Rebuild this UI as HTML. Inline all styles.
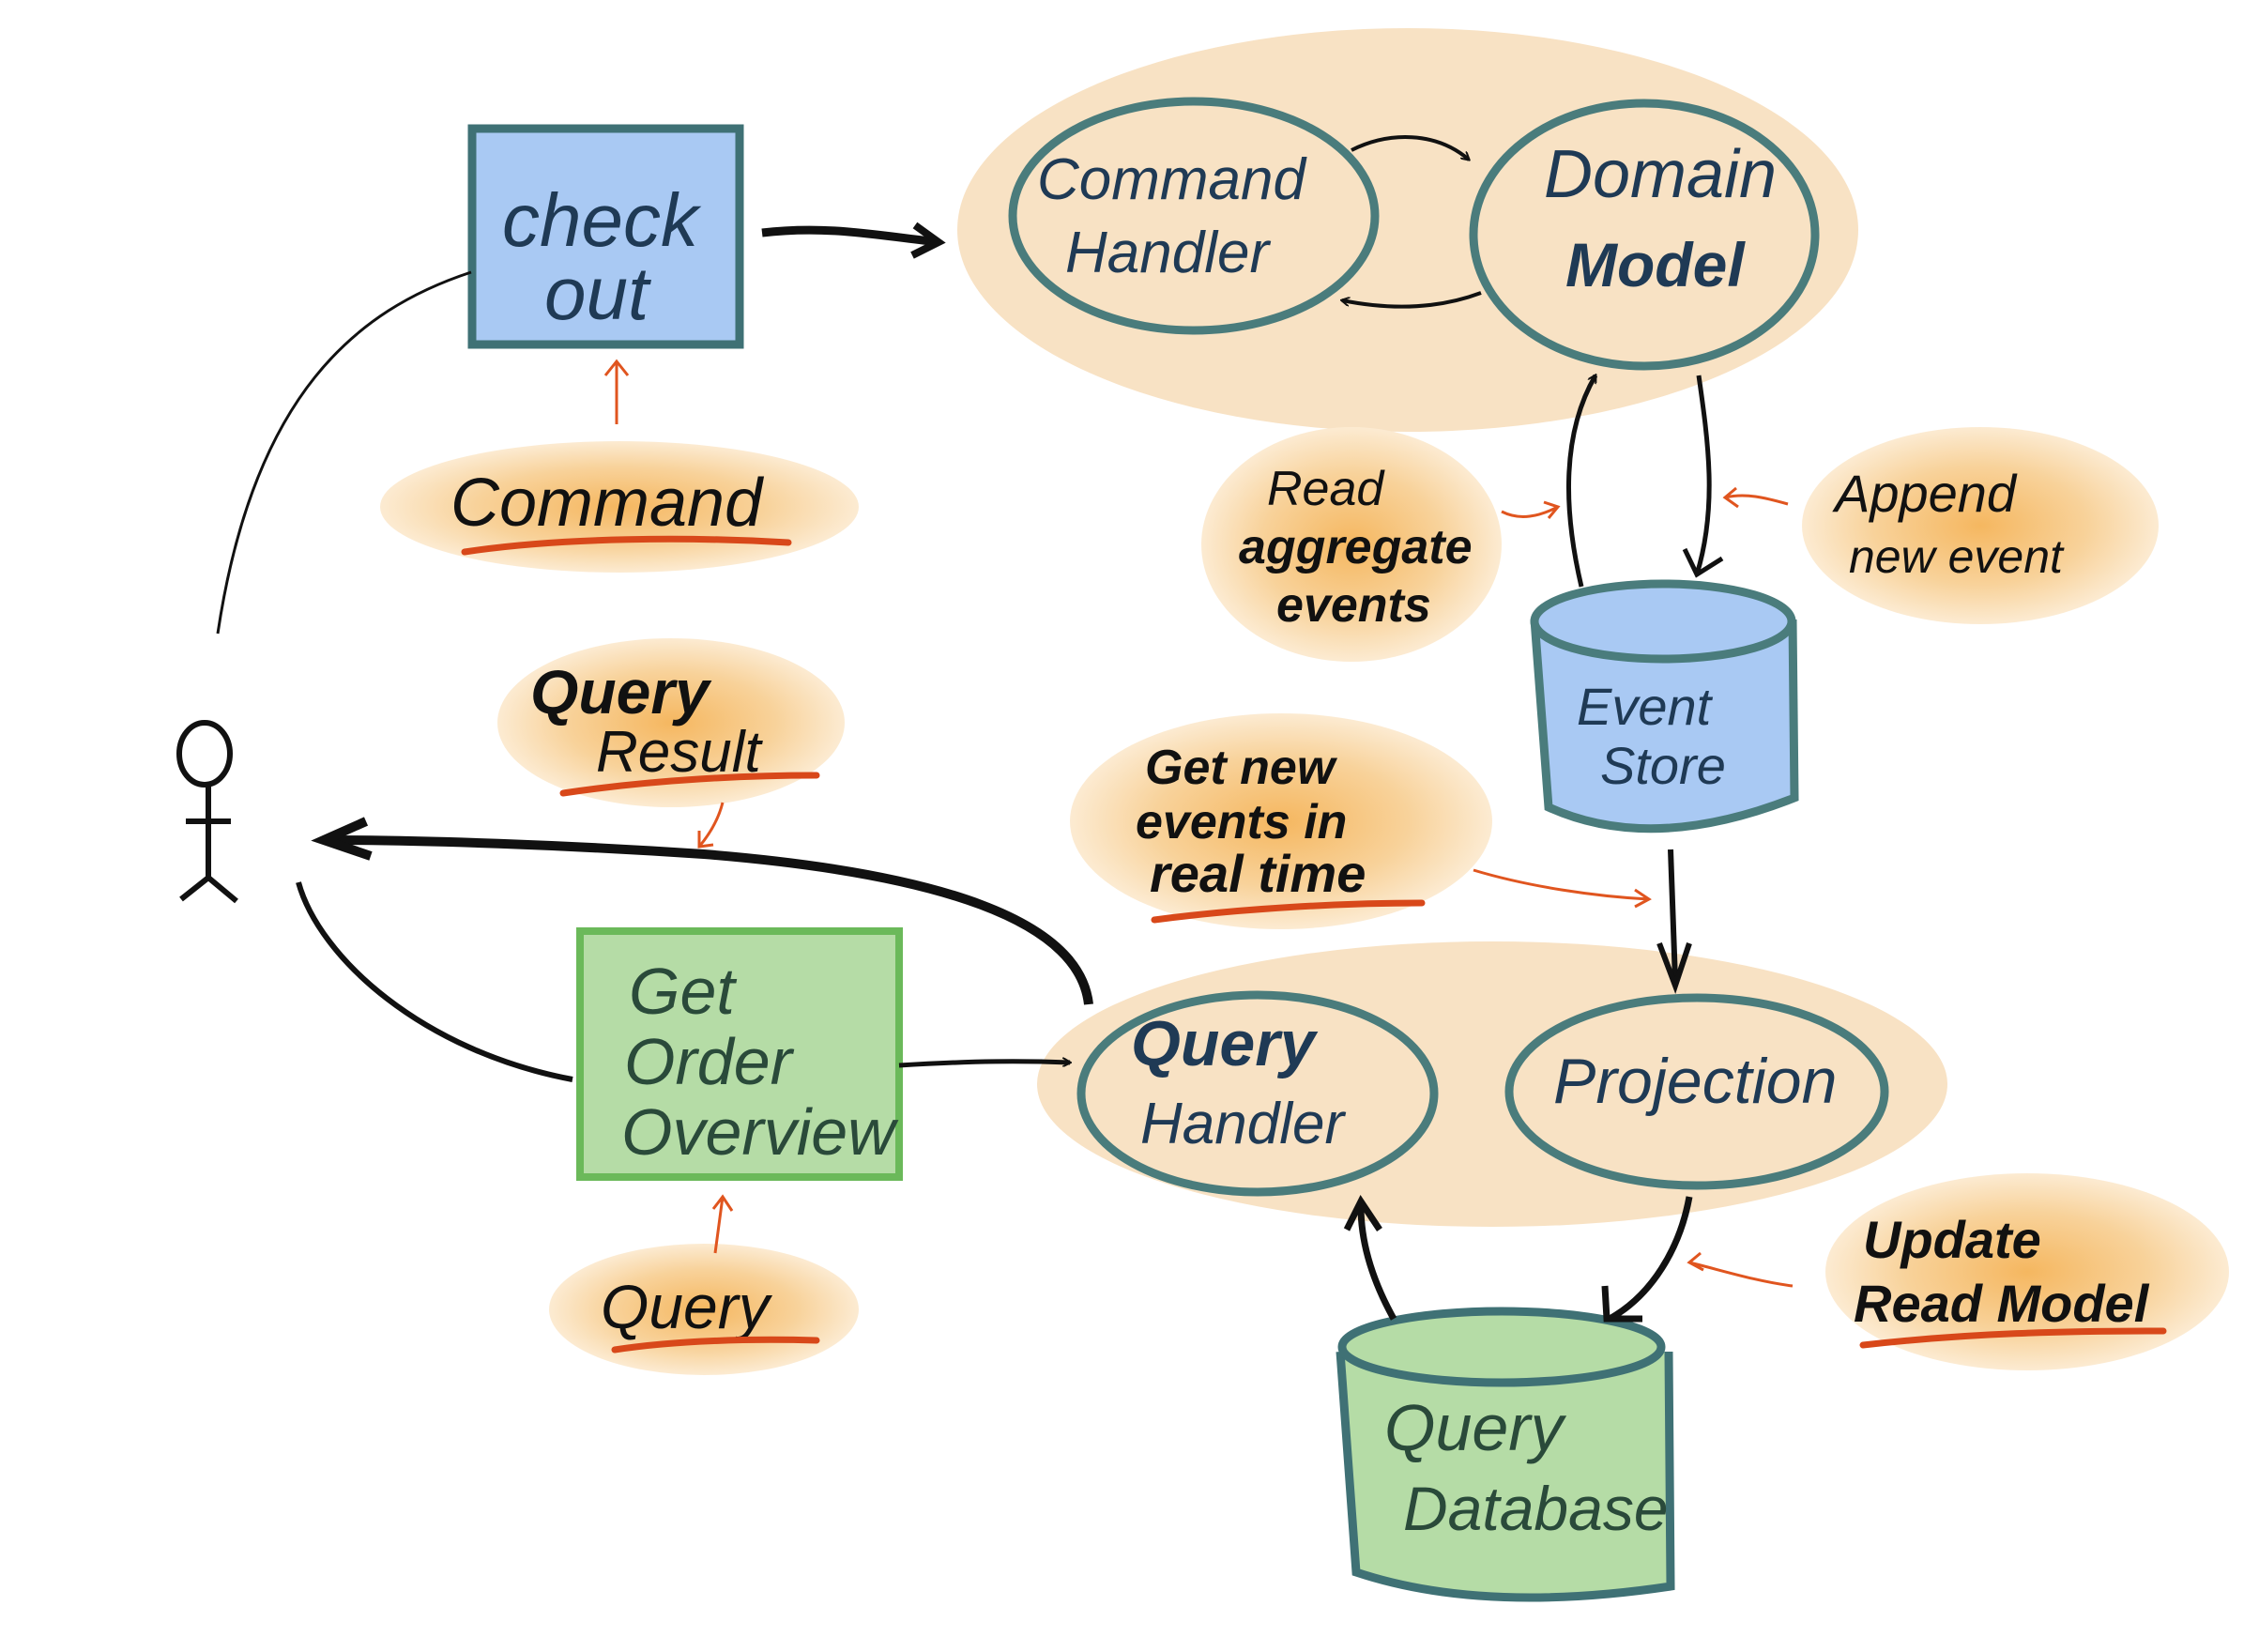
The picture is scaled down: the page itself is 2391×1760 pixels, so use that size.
<!DOCTYPE html>
<html><head><meta charset="utf-8"><style>
html,body{margin:0;padding:0;background:#fff;}
svg{display:block}
text{font-family:"Liberation Sans",sans-serif;font-style:italic;}
</style></head><body>
<svg width="2391" height="1760" viewBox="0 0 2391 1760" xmlns="http://www.w3.org/2000/svg">
<defs>
<radialGradient id="og" cx="50%" cy="50%" r="50%">
<stop offset="0" stop-color="#f5b760"/><stop offset="0.6" stop-color="#f8d29a"/><stop offset="1" stop-color="#fcebd2"/></radialGradient>
<marker id="ab" markerWidth="10" markerHeight="10" refX="8" refY="5" orient="auto" markerUnits="userSpaceOnUse" viewBox="0 0 10 10"><path d="M0,0 L9,5 L0,10" fill="none" stroke="#111" stroke-width="2"/></marker>
</defs>
<ellipse cx="1500" cy="245" rx="480" ry="215" fill="#f8e2c4"/>
<ellipse cx="1590" cy="1155" rx="485" ry="152" fill="#f8e2c4"/>
<ellipse cx="660" cy="540" rx="255" ry="70" fill="url(#og)"/>
<ellipse cx="715" cy="770" rx="185" ry="90" fill="url(#og)"/>
<ellipse cx="1440" cy="580" rx="160" ry="125" fill="url(#og)"/>
<ellipse cx="2110" cy="560" rx="190" ry="105" fill="url(#og)"/>
<ellipse cx="1365" cy="875" rx="225" ry="115" fill="url(#og)"/>
<ellipse cx="2160" cy="1355" rx="215" ry="105" fill="url(#og)"/>
<ellipse cx="750" cy="1395" rx="165" ry="70" fill="url(#og)"/>
<rect x="503" y="137" width="285" height="230" fill="#a9c9f3" stroke="#3f7175" stroke-width="9"/>
<text x="535" y="262" font-size="80" fill="#1f3a55">check</text>
<text x="580" y="340" font-size="80" fill="#1f3a55">out</text>
<ellipse cx="1272" cy="230" rx="193" ry="122" fill="none" stroke="#4a7c7c" stroke-width="9"/>
<text x="1105" y="212" font-size="62" fill="#1f3a55">Command</text>
<text x="1135" y="290" font-size="62" fill="#1f3a55">Handler</text>
<ellipse cx="1752" cy="250" rx="182" ry="140" fill="none" stroke="#4a7c7c" stroke-width="9"/>
<text x="1645" y="210" font-size="72" fill="#1f3a55">Domain</text>
<text x="1668" y="305" font-size="66" font-weight="bold" fill="#1f3a55">Model</text>
<path d="M1440,160 C1480,140 1530,140 1565,170" fill="none" stroke="#111" stroke-width="4" marker-end="url(#ab)"/>
<path d="M1578,312 C1530,330 1480,330 1430,320" fill="none" stroke="#111" stroke-width="4" marker-end="url(#ab)"/>
<path d="M1635,660 L1650,860 Q1760,910 1912,850 L1910,660" fill="#a9c9f3" stroke="#4a7c7c" stroke-width="9"/>
<ellipse cx="1772" cy="662" rx="137" ry="40" fill="#a9c9f3" stroke="#4a7c7c" stroke-width="9"/>
<text x="1680" y="772" font-size="56" fill="#1f3a55">Event</text>
<text x="1705" y="835" font-size="56" fill="#1f3a55">Store</text>
<ellipse cx="1340" cy="1165" rx="188" ry="105" fill="none" stroke="#4a7c7c" stroke-width="9"/>
<text x="1205" y="1135" font-size="68" font-weight="bold" fill="#1f3a55">Query</text>
<text x="1215" y="1218" font-size="62" fill="#1f3a55">Handler</text>
<ellipse cx="1808" cy="1163" rx="200" ry="100" fill="none" stroke="#4a7c7c" stroke-width="9"/>
<text x="1655" y="1175" font-size="68" fill="#1f3a55">Projection</text>
<rect x="618" y="992" width="340" height="262" fill="#b5dca6" stroke="#6bb95a" stroke-width="8"/>
<text x="670" y="1080" font-size="70" fill="#2a4a3a">Get</text>
<text x="665" y="1155" font-size="70" fill="#2a4a3a">Order</text>
<text x="662" y="1230" font-size="70" fill="#2a4a3a">Overview</text>
<path d="M1428,1440 L1445,1675 Q1580,1720 1780,1690 L1778,1440" fill="#b5dca6" stroke="#3f7175" stroke-width="9"/>
<ellipse cx="1600" cy="1435" rx="170" ry="38" fill="#b5dca6" stroke="#3f7175" stroke-width="9"/>
<text x="1475" y="1545" font-size="70" fill="#2a4a3a">Query</text>
<text x="1495" y="1630" font-size="66" fill="#2a4a3a">Database</text>
<ellipse cx="218" cy="803" rx="27" ry="33" fill="none" stroke="#111" stroke-width="6"/>
<path d="M222,836 L222,935 M198,875 L246,875 M193,958 L222,935 L252,960" fill="none" stroke="#111" stroke-width="6"/>
<path d="M812,248 C880,240 930,250 1000,258" fill="none" stroke="#111" stroke-width="9"/>
<path d="M975,240 L1000,258 L972,272" fill="none" stroke="#111" stroke-width="8"/>
<path d="M502,290 C380,330 270,420 232,675" fill="none" stroke="#111" stroke-width="3"/>
<path d="M318,940 C340,1020 450,1120 610,1150" fill="none" stroke="#111" stroke-width="6"/>
<path d="M1160,1070 C1150,980 1000,930 750,910 C600,900 450,895 350,895" fill="none" stroke="#111" stroke-width="10"/>
<path d="M390,875 L345,895 L395,912" fill="none" stroke="#111" stroke-width="10"/>
<path d="M958,1135 C1040,1130 1090,1130 1140,1132" fill="none" stroke="#111" stroke-width="5" marker-end="url(#ab)"/>
<path d="M1685,625 C1665,540 1665,460 1700,400" fill="none" stroke="#111" stroke-width="5" marker-end="url(#ab)"/>
<path d="M1810,400 C1820,470 1830,540 1808,612" fill="none" stroke="#111" stroke-width="5"/>
<path d="M1795,585 L1808,612 L1835,595" fill="none" stroke="#111" stroke-width="5"/>
<path d="M1780,905 L1785,1045" fill="none" stroke="#111" stroke-width="6"/>
<path d="M1768,1005 L1785,1050 L1800,1005" fill="none" stroke="#111" stroke-width="6"/>
<path d="M1800,1275 C1790,1330 1760,1380 1715,1405" fill="none" stroke="#111" stroke-width="7"/>
<path d="M1710,1370 L1712,1405 L1750,1405" fill="none" stroke="#111" stroke-width="7"/>
<path d="M1485,1405 C1460,1360 1450,1320 1450,1285" fill="none" stroke="#111" stroke-width="7"/>
<path d="M1435,1310 L1450,1280 L1470,1310" fill="none" stroke="#111" stroke-width="7"/>
<g fill="none" stroke="#e0551f" stroke-width="3">
<path d="M657,452 L657,385 M645,400 L657,385 L669,400"/>
<path d="M770,855 C765,875 755,890 745,902 M745,885 L745,902 L760,900"/>
<path d="M1600,545 C1620,555 1640,550 1660,540 M1645,535 L1660,540 L1650,552"/>
<path d="M1905,537 C1880,530 1860,525 1838,530 M1850,520 L1838,530 L1852,540"/>
<path d="M1570,927 C1630,945 1700,955 1757,958 M1742,948 L1757,958 L1742,966"/>
<path d="M1910,1370 C1870,1365 1830,1352 1800,1345 M1812,1335 L1800,1345 L1815,1353"/>
<path d="M762,1335 L770,1275 M760,1288 L770,1275 L780,1290"/>
</g>
<g fill="#111">
<text x="480" y="560" font-size="72">Command</text>
<text x="565" y="760" font-size="66" font-weight="bold">Query</text>
<text x="635" y="822" font-size="62">Result</text>
<text x="1350" y="538" font-size="52">Read</text>
<text x="1320" y="600" font-size="52" font-weight="bold">aggregate</text>
<text x="1360" y="662" font-size="52" font-weight="bold">events</text>
<text x="1955" y="545" font-size="56">Append</text>
<text x="1970" y="610" font-size="50">new event</text>
<text x="1220" y="835" font-size="52" font-weight="bold">Get new</text>
<text x="1210" y="893" font-size="52" font-weight="bold">events in</text>
<text x="1225" y="950" font-size="56" font-weight="bold">real time</text>
<text x="1985" y="1340" font-size="56" font-weight="bold">Update</text>
<text x="1975" y="1408" font-size="56" font-weight="bold">Read Model</text>
<text x="640" y="1415" font-size="66">Query</text>
</g>
<g fill="none" stroke="#d8481a" stroke-width="7" stroke-linecap="round">
<path d="M495,588 C600,572 740,572 840,578"/>
<path d="M600,845 C700,830 800,826 870,826"/>
<path d="M1230,980 C1320,968 1430,962 1515,962"/>
<path d="M1985,1433 C2100,1420 2200,1418 2305,1418"/>
<path d="M655,1438 C720,1428 800,1426 870,1428"/>
</g>
</svg>
</body></html>
